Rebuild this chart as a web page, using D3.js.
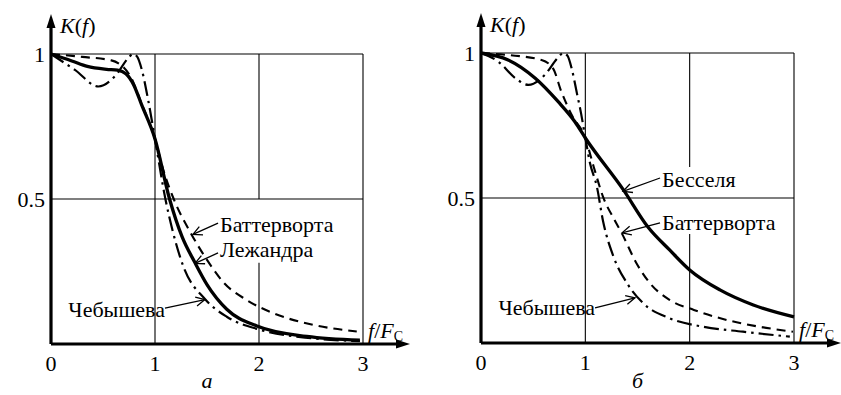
<!DOCTYPE html>
<html><head><meta charset="utf-8"><script src="https://cdn.jsdelivr.net/npm/d3@7"></script></head>
<body style="margin:0">
<script>
// values, [f/Fc, K]
var xTicks = [0, 1, 2, 3];
var yTicks = [0.5, 1];

// panel a
var butterA = [[0,1],[0.3,0.99],[0.58,0.978],[0.76,0.925],[0.87,0.83],[1,0.707],[1.08,0.6],[1.18,0.5],
  [1.34,0.385],[1.5,0.29],[1.66,0.212],[1.88,0.152],[2.14,0.106],[2.52,0.066],[2.94,0.043]];
var chebA = [[0,1],[0.23,0.945],[0.455,0.888],[0.63,0.93],[0.74,0.985],[0.79,1.0],[0.83,0.99],[0.87,0.95],
  [0.935,0.84],[1,0.707],[1.1,0.5],[1.17,0.39],[1.27,0.27],[1.48,0.155],[1.69,0.094],[2,0.05],[2.5,0.02],[2.97,0.01]];
var legendreA = [[0,1],[0.2,0.976],[0.35,0.957],[0.535,0.947],[0.64,0.944],[0.72,0.932],[0.8,0.89],
  [0.87,0.826],[1,0.707],[1.14,0.5],[1.26,0.37],[1.385,0.28],[1.5,0.205],[1.69,0.12],[1.98,0.062],
  [2.46,0.026],[2.97,0.013]];

// panel б
var butterB = [[0,1],[0.26,0.993],[0.58,0.976],[0.69,0.947],[0.77,0.867],[0.87,0.786],[1,0.707],[1.08,0.608],
  [1.17,0.504],[1.28,0.424],[1.35,0.378],[1.49,0.275],[1.62,0.206],[1.81,0.148],[2.04,0.114],[2.36,0.079],
  [2.67,0.056],[2.99,0.039]];
var chebB = [[0,1],[0.17,0.969],[0.33,0.913],[0.455,0.89],[0.61,0.924],[0.74,0.985],[0.79,1.0],[0.83,0.99],
  [0.87,0.945],[0.92,0.86],[0.96,0.79],[1,0.707],[1.045,0.62],[1.11,0.54],[1.17,0.42],[1.27,0.298],[1.4,0.206],
  [1.555,0.137],[1.81,0.085],[2.13,0.056],[2.51,0.039],[2.96,0.022]];
var besselB = [[0,1],[0.26,0.976],[0.52,0.913],[0.74,0.832],[0.9,0.763],[1,0.707],[1.365,0.528],[1.6,0.4],
  [1.81,0.32],[2,0.252],[2.29,0.183],[2.61,0.131],[3,0.09]];

var namesA = ["Баттерворта", "Лежандра", "Чебышева"];
var namesB = ["Бесселя", "Баттерворта", "Чебышева"];

var width = 841, height = 395;
var FONT = "Liberation Serif";

var styles = {
  solid: { w: 3.3, dash: null },
  dash: { w: 2.1, dash: "9,6" },
  dashdot: { w: 2.2, dash: "15,5,2.5,5" }
};

var panels = [
  { left: 51, right: 363, top: 54, bottom: 344, sub: "а", gap: [0.28, 0.5],
    series: [[butterA, "dash"], [chebA, "dashdot"], [legendreA, "solid"]],
    notes: [
      { name: namesA[0], tx: 1.625, ty: 0.387, a: [1.606, 0.417], b: [1.365, 0.378], anchor: "start" },
      { name: namesA[1], tx: 1.625, ty: 0.30, a: [1.606, 0.314], b: [1.385, 0.278], anchor: "start" },
      { name: namesA[2], tx: 1.096, ty: 0.093, a: [1.096, 0.124], b: [1.48, 0.153], anchor: "end" }
    ] },
  { left: 481, right: 794, top: 53, bottom: 343, sub: "б", gap: [0.376, 0.607],
    series: [[butterB, "dash"], [chebB, "dashdot"], [besselB, "solid"]],
    notes: [
      { name: namesB[0], tx: 1.735, ty: 0.538, a: [1.716, 0.569], b: [1.361, 0.523], anchor: "start" },
      { name: namesB[1], tx: 1.735, ty: 0.39, a: [1.716, 0.414], b: [1.352, 0.38], anchor: "start" },
      { name: namesB[2], tx: 1.093, ty: 0.097, a: [1.093, 0.121], b: [1.476, 0.156], anchor: "end" }
    ] }
];

var svg = d3.select("body").append("svg")
  .attr("width", width)
  .attr("height", height);

var defs = svg.append("defs");
defs.append("marker")
  .attr("id", "head")
  .attr("viewBox", "-10 -6 12 12")
  .attr("markerWidth", 12).attr("markerHeight", 12)
  .attr("markerUnits", "userSpaceOnUse")
  .attr("orient", "auto")
  .append("path")
  .attr("d", "M-9,-4.5L0,0L-9,4.5")
  .attr("fill", "none").attr("stroke", "#000").attr("stroke-width", 1.3);

function txt(sel, size) {
  return sel.attr("font-family", FONT).attr("font-size", size);
}

panels.forEach(function(p) {
  var x = d3.scaleLinear().domain([0, 3]).range([p.left, p.right]);
  var y = d3.scaleLinear().domain([0, 1]).range([p.bottom, p.top]);
  var g = svg.append("g");

  // grid
  var grid = g.append("g").attr("stroke", "#000").attr("stroke-width", 1.1);
  yTicks.forEach(function(t) {
    grid.append("line").attr("x1", x(0)).attr("x2", x(3)).attr("y1", y(t)).attr("y2", y(t));
  });
  [1, 3].forEach(function(t) {
    grid.append("line").attr("x1", x(t)).attr("x2", x(t)).attr("y1", y(0)).attr("y2", y(1));
  });
  // x=2 line is broken where the labels sit
  grid.append("line").attr("x1", x(2)).attr("x2", x(2)).attr("y1", y(1)).attr("y2", y(p.gap[1]));
  grid.append("line").attr("x1", x(2)).attr("x2", x(2)).attr("y1", y(p.gap[0])).attr("y2", y(0));

  // curves
  var line = d3.line()
    .x(function(d) { return x(d[0]); })
    .y(function(d) { return y(d[1]); })
    .curve(d3.curveMonotoneX);

  p.series.forEach(function(s) {
    var st = styles[s[1]];
    g.append("path")
      .datum(s[0])
      .attr("d", line)
      .attr("fill", "none")
      .attr("stroke", "#000")
      .attr("stroke-width", st.w)
      .attr("stroke-dasharray", st.dash);
  });

  // axes with arrows
  var ax = g.append("g");
  ax.append("line").attr("x1", x(0)).attr("x2", x(3) + 40).attr("y1", y(0)).attr("y2", y(0))
    .attr("stroke", "#000").attr("stroke-width", 3.2);
  ax.append("line").attr("x1", x(0)).attr("x2", x(0)).attr("y1", y(0)).attr("y2", y(1) - 32)
    .attr("stroke", "#000").attr("stroke-width", 3.2);
  var xt = x(3) + 47, yt = y(1) - 40;
  ax.append("path").attr("d", "M" + xt + "," + y(0) + "L" + (xt - 14) + "," + (y(0) - 4.5) + "L" + (xt - 14) + "," + (y(0) + 4.5) + "Z");
  ax.append("path").attr("d", "M" + x(0) + "," + yt + "L" + (x(0) - 4.5) + "," + (yt + 14) + "L" + (x(0) + 4.5) + "," + (yt + 14) + "Z");

  // tick labels, placed by the scales
  xTicks.forEach(function(t) {
    txt(g.append("text"), 22)
      .attr("x", x(t)).attr("y", y(0) + 27)
      .attr("text-anchor", "middle")
      .text(t);
  });
  yTicks.forEach(function(t) {
    txt(g.append("text"), 22)
      .attr("x", x(0) - 6).attr("y", y(t) + 8)
      .attr("text-anchor", "end")
      .text(t === 1 ? "1" : "0.5");
  });

  // axis titles
  var kt = txt(g.append("text").attr("x", x(0) + 9).attr("y", y(1) - 21), 22);
  kt.append("tspan").attr("font-style", "italic").text("K");
  kt.append("tspan").text("(");
  kt.append("tspan").attr("font-style", "italic").text("f");
  kt.append("tspan").text(")");

  var ft = txt(g.append("text").attr("x", x(3) + 5).attr("y", y(0) - 6), 22);
  ft.append("tspan").attr("font-style", "italic").text("f");
  ft.append("tspan").text("/");
  ft.append("tspan").attr("font-style", "italic").text("F");
  ft.append("tspan").attr("dy", 3).attr("font-size", 14).text("C");

  // annotations
  p.notes.forEach(function(n) {
    g.append("line")
      .attr("x1", x(n.a[0])).attr("y1", y(n.a[1]))
      .attr("x2", x(n.b[0])).attr("y2", y(n.b[1]))
      .attr("stroke", "#000").attr("stroke-width", 1.3)
      .attr("marker-end", "url(#head)");
    txt(g.append("text"), 22)
      .attr("x", x(n.tx)).attr("y", y(n.ty))
      .attr("text-anchor", n.anchor)
      .text(n.name);
  });

  txt(g.append("text"), 22)
    .attr("x", x(1.5)).attr("y", 388)
    .attr("text-anchor", "middle")
    .attr("font-style", "italic")
    .text(p.sub);
});
</script>
</body>
</html>
